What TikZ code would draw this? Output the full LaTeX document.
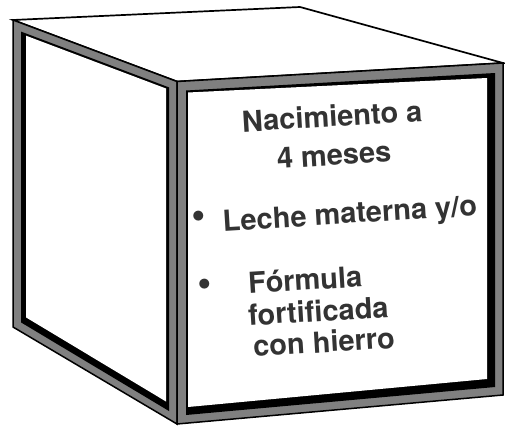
\documentclass[tikz,border=0pt]{standalone}
\usepackage{fontspec}
\setsansfont{TeX Gyre Heros}
\usepackage{tikz}
\definecolor{framegray}{HTML}{808080}
\definecolor{inkgray}{HTML}{333333}

\begin{document}
\begin{tikzpicture}[x=1pt,y=-1pt,
	frame/.style={fill=framegray,draw=black,line width=1.5pt,line join=miter},
	boxtext/.style={text=inkgray,font=\sffamily\bfseries\fontsize{29}{34}\selectfont,rotate=3.5,inner sep=0pt},
	dot/.style={boxtext,font=\sffamily\bfseries\fontsize{40}{40}\selectfont}]
	\useasboundingbox (0,0) rectangle (505,428);
	
	% top of the box
	\draw[fill=white,line width=1.7pt] (13,20) -- (300,7) -- (503,63) -- (177,81.5) -- cycle;
	
	% left side
	\draw[frame] (13,20) -- (177,81.5) -- (177,424) -- (13,327) -- cycle;
	\fill (21,31.6) -- (169,87.4) -- (169,411) -- (21,322.4) -- cycle;
	\fill[white] (26,35.7) -- (166,88.5) -- (166,401.5) -- (26,317.4) -- cycle;
	
	% front side
	\draw[frame] (177,81.5) -- (503,63) -- (503,395) -- (177,424) -- cycle;
	\fill (186,90.5) -- (495,73) -- (495,387) -- (186,415) -- cycle;
	\fill[white] (188,92.5) -- (487,78) -- (487,379) -- (188,407) -- cycle;
	
	\node[boxtext] (t1) at (332,116) {Nacimiento a};
	\node[boxtext] (t2) at (334,155) {4 meses};
	\node[dot] (b1) at (199,220) {\textbullet};
	\node[boxtext] (t3) at (350,216) {Leche materna y/o};
	\node[dot] (b2) at (205,288) {\textbullet};
	\node[boxtext,anchor=west] (t4) at (248,283) {Fórmula};
	\node[boxtext,anchor=west] (t5) at (248,315) {fortificada};
	\node[boxtext,anchor=west] (t6) at (253,346) {con hierro};
\end{tikzpicture}
\end{document}
